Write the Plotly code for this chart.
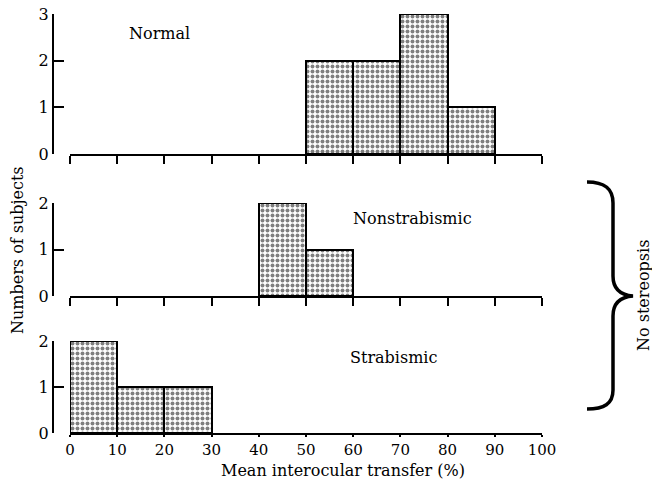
import plotly.graph_objects as go

# ---- data ----
bin_starts = [0, 10, 20, 30, 40, 50, 60, 70, 80, 90]
normal_counts = [0, 0, 0, 0, 0, 2, 2, 3, 1, 0]
nonstrab_counts = [0, 0, 0, 0, 2, 1, 0, 0, 0, 0]
strab_counts = [2, 1, 1, 0, 0, 0, 0, 0, 0, 0]
x_ticks = [0, 10, 20, 30, 40, 50, 60, 70, 80, 90, 100]
panel_labels = ["Normal", "Nonstrabismic", "Strabismic"]
y_max = [3, 2, 2]

W, H = 652, 483
def X(px):
    return px / W
def Y(py):
    return 1 - py / H

FONT = "DejaVu Serif"
fig = go.Figure()

series = [normal_counts, nonstrab_counts, strab_counts]
for i, counts in enumerate(series):
    xs = [b + 5 for b, c in zip(bin_starts, counts) if c > 0]
    ys = [c for c in counts if c > 0]
    fig.add_trace(go.Bar(
        x=xs, y=ys, width=10,
        xaxis=f"x{i+1 if i else ''}", yaxis=f"y{i+1 if i else ''}",
        marker=dict(color="white", line=dict(color="black", width=2),
                    pattern=dict(shape=".", fgcolor="black", bgcolor="white",
                                 size=5, solidity=0.5)),
        showlegend=False, hoverinfo="skip"))

ydomains = [(Y(154), Y(14)), (Y(296), Y(203)), (Y(433), Y(341))]
xdom = [X(70), X(542)]
yaxis_pos = X(53)

layout = dict(
    width=W, height=H, margin=dict(l=0, r=0, t=0, b=0, pad=0, autoexpand=False),
    paper_bgcolor="white", plot_bgcolor="white", bargap=0,
    font=dict(family=FONT, color="black"),
)
for i in range(3):
    sx = "" if i == 0 else str(i + 1)
    layout[f"xaxis{sx}"] = dict(
        domain=xdom, range=[0, 100], anchor=f"y{sx}", automargin=False,
        tickvals=x_ticks, ticks="outside", ticklen=(2 if i == 2 else 8),
        tickwidth=1.5,
        tickcolor="black", showline=True, linecolor="black", linewidth=2,
        showgrid=False, zeroline=False,
        showticklabels=(i == 2), tickfont=dict(family=FONT, size=15),
    )
    layout[f"yaxis{sx}"] = dict(
        domain=list(ydomains[i]), range=[0, y_max[i]], anchor="free",
        position=yaxis_pos, tickvals=list(range(y_max[i] + 1)), automargin=False,
        ticks="inside", ticklen=10, tickwidth=1.5, tickcolor="black",
        showline=True, linecolor="black", linewidth=2,
        showgrid=False, zeroline=False, tickfont=dict(family=FONT, size=16),
    )
fig.update_layout(**layout)

ann = [
    dict(text=panel_labels[0], x=X(159), y=Y(33)),
    dict(text=panel_labels[1], x=X(412), y=Y(218)),
    dict(text=panel_labels[2], x=X(394), y=Y(357)),
    dict(text="Numbers of subjects", x=X(17), y=Y(250), textangle=-90),
    dict(text="Mean interocular transfer (%)", x=X(343), y=Y(470)),
    dict(text="No stereopsis", x=X(643), y=Y(296), textangle=-90),
]
for a in ann:
    fig.add_annotation(xref="paper", yref="paper", showarrow=False,
                       xanchor="center", yanchor="middle",
                       font=dict(family=FONT, size=16, color="black"), **a)

# brace (decoration)
pts = [("M", [(587, 182)]),
       ("C", [(604, 182), (613, 188), (613, 203)]),
       ("L", [(613, 276)]),
       ("C", [(613, 289), (620, 295), (633, 296)]),
       ("C", [(620, 297), (613, 303), (613, 316)]),
       ("L", [(613, 390)]),
       ("C", [(613, 404), (604, 409), (587, 409)])]
path = " ".join(cmd + " " + " ".join(f"{X(a):.5f},{Y(b):.5f}" for a, b in p) for cmd, p in pts)
fig.add_shape(type="path", path=path, xref="paper", yref="paper",
              line=dict(color="black", width=3.5))

fig.write_html("out.html")
